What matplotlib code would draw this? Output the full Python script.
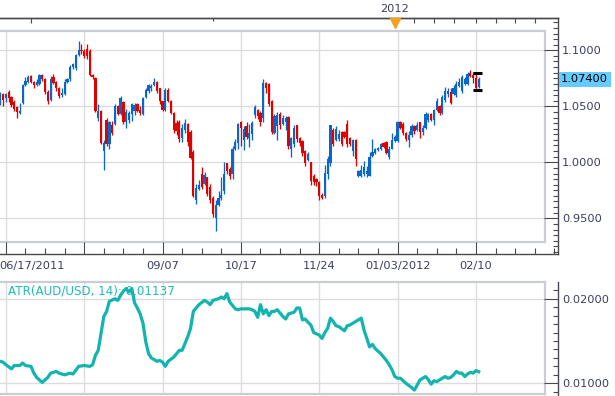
import matplotlib
matplotlib.use('Agg')
import matplotlib.pyplot as plt
import matplotlib.transforms as mtransforms
from matplotlib.ticker import FixedLocator, MultipleLocator, FormatStrFormatter
import numpy as np

# ---------------- data (AUD/USD daily, 06/17/2011 .. 02/13/2012) ----------------
opens = [1.055, 1.061, 1.057, 1.063, 1.058, 1.054, 1.049, 1.044, 1.053, 1.069,
         1.072, 1.077, 1.072, 1.069, 1.070, 1.078, 1.074, 1.063, 1.056, 1.076,
         1.072, 1.066, 1.060, 1.061, 1.072, 1.074, 1.085, 1.084, 1.096, 1.100,
         1.099, 1.101, 1.099, 1.078, 1.075, 1.040, 1.046, 1.010, 1.038, 1.016,
         1.033, 1.034, 1.050, 1.043, 1.054, 1.036, 1.038, 1.043, 1.046, 1.052,
         1.047, 1.043, 1.058, 1.064, 1.066, 1.069, 1.072, 1.066, 1.055, 1.047,
         1.065, 1.055, 1.044, 1.035, 1.036, 1.022, 1.029, 1.034, 1.027, 1.009,
         0.966, 0.976, 0.990, 0.981, 0.987, 0.978, 0.968, 0.950, 0.962, 0.968,
         0.974, 0.999, 0.994, 0.990, 1.012, 1.017, 1.036, 1.020, 1.032, 1.022,
         1.025, 1.042, 1.047, 1.044, 1.040, 1.071, 1.070, 1.055, 1.026, 1.032,
         1.043, 1.034, 1.036, 1.040, 1.012, 1.016, 1.033, 1.022, 1.019, 1.010,
         1.002, 1.000, 0.988, 0.985, 0.982, 0.971, 0.970, 0.990, 0.999, 1.029,
         1.020, 1.021, 1.027, 1.027, 1.034, 1.022, 1.010, 1.020, 0.988, 0.988,
         0.990, 0.990, 0.988, 1.006, 1.008, 1.011, 1.012, 1.017, 1.018, 1.005,
         1.012, 1.019, 1.019, 1.036, 1.034, 1.026, 1.020, 1.024, 1.032, 1.029,
         1.036, 1.027, 1.031, 1.038, 1.043, 1.038, 1.047, 1.050, 1.044, 1.056,
         1.061, 1.063, 1.061, 1.060, 1.068, 1.064, 1.070, 1.070, 1.080, 1.078,
         1.075, 1.067]
highs = [1.063, 1.062, 1.062, 1.065, 1.059, 1.056, 1.050, 1.053, 1.070, 1.076,
         1.078, 1.078, 1.073, 1.074, 1.079, 1.079, 1.075, 1.065, 1.077, 1.079,
         1.073, 1.067, 1.066, 1.074, 1.075, 1.087, 1.089, 1.097, 1.108, 1.106,
         1.101, 1.106, 1.101, 1.079, 1.076, 1.052, 1.047, 1.020, 1.040, 1.037,
         1.037, 1.052, 1.051, 1.059, 1.055, 1.048, 1.046, 1.053, 1.053, 1.053,
         1.050, 1.058, 1.066, 1.070, 1.070, 1.075, 1.073, 1.066, 1.055, 1.066,
         1.066, 1.056, 1.045, 1.038, 1.038, 1.034, 1.039, 1.035, 1.029, 1.011,
         0.981, 0.984, 0.996, 0.991, 0.987, 0.981, 0.970, 0.966, 0.974, 0.987,
         1.000, 0.999, 0.996, 1.015, 1.021, 1.035, 1.037, 1.032, 1.036, 1.034,
         1.037, 1.051, 1.048, 1.046, 1.074, 1.072, 1.071, 1.056, 1.043, 1.045,
         1.045, 1.042, 1.041, 1.041, 1.023, 1.033, 1.033, 1.023, 1.020, 1.011,
         1.009, 1.000, 0.990, 0.986, 0.983, 0.973, 0.998, 1.006, 1.033, 1.031,
         1.032, 1.029, 1.028, 1.028, 1.038, 1.023, 1.021, 1.021, 0.993, 0.998,
         1.001, 0.997, 1.009, 1.021, 1.013, 1.014, 1.017, 1.018, 1.019, 1.015,
         1.026, 1.024, 1.037, 1.037, 1.036, 1.027, 1.028, 1.034, 1.033, 1.036,
         1.036, 1.033, 1.045, 1.044, 1.044, 1.048, 1.057, 1.051, 1.060, 1.067,
         1.066, 1.066, 1.069, 1.073, 1.075, 1.078, 1.076, 1.081, 1.082, 1.081,
         1.0795, 1.076]
lows = [1.051, 1.050, 1.054, 1.054, 1.049, 1.046, 1.040, 1.043, 1.052, 1.068,
        1.071, 1.071, 1.066, 1.068, 1.069, 1.073, 1.061, 1.052, 1.055, 1.070,
        1.064, 1.057, 1.058, 1.060, 1.071, 1.073, 1.083, 1.082, 1.095, 1.097,
        1.093, 1.092, 1.077, 1.074, 1.045, 1.037, 1.016, 0.993, 1.015, 1.012,
        1.024, 1.033, 1.042, 1.042, 1.034, 1.031, 1.035, 1.037, 1.042, 1.045,
        1.042, 1.042, 1.057, 1.062, 1.064, 1.068, 1.062, 1.052, 1.046, 1.046,
        1.054, 1.043, 1.026, 1.024, 1.018, 1.018, 1.026, 1.015, 1.003, 0.969,
        0.963, 0.975, 0.976, 0.980, 0.970, 0.964, 0.951, 0.939, 0.961, 0.966,
        0.972, 0.990, 0.985, 0.985, 1.011, 1.012, 1.015, 1.011, 1.021, 1.014,
        1.020, 1.040, 1.039, 1.032, 1.036, 1.062, 1.050, 1.025, 1.025, 1.020,
        1.030, 1.033, 1.029, 1.012, 1.005, 1.014, 1.018, 1.015, 1.006, 0.997,
        1.001, 0.980, 0.980, 0.979, 0.966, 0.967, 0.968, 0.985, 0.997, 1.015,
        1.019, 1.019, 1.015, 1.022, 1.014, 1.015, 1.006, 0.997, 0.987, 0.987,
        0.988, 0.987, 0.988, 1.005, 1.007, 1.010, 1.011, 1.013, 1.007, 1.003,
        1.012, 1.018, 1.018, 1.030, 1.024, 1.019, 1.014, 1.023, 1.025, 1.028,
        1.022, 1.024, 1.030, 1.036, 1.037, 1.033, 1.046, 1.042, 1.043, 1.054,
        1.058, 1.052, 1.060, 1.058, 1.067, 1.062, 1.069, 1.069, 1.076, 1.071,
        1.0645, 1.066]
closes = [1.061, 1.056, 1.061, 1.057, 1.051, 1.048, 1.045, 1.046, 1.069, 1.073,
          1.076, 1.072, 1.069, 1.072, 1.078, 1.074, 1.063, 1.055, 1.074, 1.071,
          1.066, 1.059, 1.062, 1.072, 1.074, 1.085, 1.088, 1.096, 1.100, 1.099,
          1.095, 1.095, 1.078, 1.076, 1.046, 1.046, 1.017, 1.017, 1.016, 1.036,
          1.026, 1.050, 1.043, 1.057, 1.036, 1.045, 1.044, 1.052, 1.051, 1.046,
          1.044, 1.057, 1.065, 1.069, 1.068, 1.072, 1.064, 1.055, 1.047, 1.065,
          1.055, 1.044, 1.029, 1.028, 1.021, 1.031, 1.035, 1.018, 1.004, 0.970,
          0.977, 0.980, 0.978, 0.989, 0.972, 0.966, 0.954, 0.962, 0.968, 0.971,
          0.990, 0.992, 0.988, 1.012, 1.018, 1.034, 1.031, 1.030, 1.023, 1.026,
          1.035, 1.049, 1.041, 1.036, 1.071, 1.066, 1.052, 1.027, 1.041, 1.042,
          1.033, 1.040, 1.040, 1.015, 1.022, 1.031, 1.021, 1.017, 1.008, 0.999,
          1.007, 0.983, 0.982, 0.982, 0.970, 0.968, 0.990, 1.003, 1.033, 1.016,
          1.030, 1.025, 1.016, 1.023, 1.016, 1.016, 1.020, 1.003, 0.992, 0.993,
          0.996, 0.992, 1.005, 1.009, 1.012, 1.013, 1.016, 1.014, 1.008, 1.012,
          1.020, 1.023, 1.036, 1.031, 1.026, 1.021, 1.024, 1.032, 1.028, 1.033,
          1.027, 1.031, 1.043, 1.043, 1.038, 1.047, 1.055, 1.044, 1.058, 1.064,
          1.064, 1.053, 1.066, 1.070, 1.072, 1.076, 1.074, 1.079, 1.077, 1.075,
          1.066, 1.074]

atr_idx = [0, 1, 2, 4, 5, 7, 8, 9, 11, 12, 13, 15, 17, 18, 20, 21, 23, 25, 26, 28,
           30, 32, 33, 34, 35, 36, 37, 38, 39, 41, 42, 43, 44, 45, 46, 47, 48, 49, 50, 51,
           52, 53, 54, 55, 56, 57, 58, 59, 60, 62, 63, 64, 65, 66, 67, 68, 69, 70, 71, 73,
           74, 75, 76, 78, 79, 80, 81, 82, 84, 85, 86, 87, 89, 90, 91, 92, 93, 94, 95, 96,
           97, 98, 99, 100, 101, 102, 103, 105, 106, 107, 108, 109, 110, 111, 112, 114, 115, 116, 117, 118,
           119, 120, 121, 123, 124, 125, 126, 128, 129, 130, 131, 132, 133, 134, 136, 137, 138, 139, 140, 141,
           142, 143, 144, 145, 147, 148, 149, 150, 152, 153, 154, 155, 156, 157, 159, 160, 161, 162, 163, 164,
           165, 166, 167, 168, 169, 170, 171]
atr_val = [0.0126, 0.0125, 0.0122, 0.0117, 0.0121, 0.0121, 0.0124, 0.0121, 0.0120, 0.0112,
           0.0107, 0.0101, 0.0107, 0.0112, 0.0114, 0.0112, 0.0110, 0.0112, 0.0111, 0.0120,
           0.0121, 0.0120, 0.0122, 0.0133, 0.0139, 0.0159, 0.0179, 0.0185, 0.0197, 0.0200,
           0.0198, 0.0204, 0.0209, 0.0212, 0.0208, 0.0212, 0.0195, 0.0189, 0.0182, 0.0171,
           0.0149, 0.0135, 0.0130, 0.0128, 0.0126, 0.0127, 0.0125, 0.0120, 0.0126, 0.0131,
           0.0135, 0.0139, 0.0139, 0.0147, 0.0155, 0.0165, 0.0185, 0.0189, 0.0193, 0.0198,
           0.0196, 0.0193, 0.0198, 0.0200, 0.0202, 0.0200, 0.0206, 0.0196, 0.0188, 0.0187,
           0.0188, 0.0188, 0.0188, 0.0187, 0.0185, 0.0178, 0.0193, 0.0182, 0.0187, 0.0180,
           0.0185, 0.0185, 0.0187, 0.0183, 0.0179, 0.0176, 0.0182, 0.0184, 0.0189, 0.0189,
           0.0175, 0.0176, 0.0172, 0.0169, 0.0160, 0.0157, 0.0153, 0.0160, 0.0165, 0.0177,
           0.0173, 0.0168, 0.0167, 0.0162, 0.0168, 0.0169, 0.0171, 0.0175, 0.0177, 0.0163,
           0.0153, 0.0143, 0.0146, 0.0141, 0.0135, 0.0131, 0.0127, 0.0122, 0.0116, 0.0108,
           0.0106, 0.0106, 0.0103, 0.0100, 0.0095, 0.0092, 0.0098, 0.0104, 0.0108, 0.0104,
           0.0099, 0.0103, 0.0102, 0.0104, 0.0108, 0.0106, 0.0107, 0.0110, 0.0114, 0.0112,
           0.0112, 0.0108, 0.0111, 0.0113, 0.0112, 0.0115, 0.01137]

date_grid_idx = [2, 30, 58, 86, 114, 142, 170]
date_labels = ['', '', '09/07', '10/17', '11/24', '01/03/2012', '02/10']
first_label = '06/17/2011'
price_ticks = [0.95, 1.00, 1.05, 1.10]
atr_ticks = [0.01, 0.02]
last_price_label = '1.07400'
atr_label = 'ATR(AUD/USD, 14): 0.01137'
year_label = '2012'
year_idx = 141
top_major_idx = [11, 141, 148, 155, 162, 170, 177, 184, 191]
top_minor_idx = [76]

# ---------------- layout helpers ----------------
W, H = 615, 396
PX = 2.798          # pixels per bar
XL = -0.1
P_PX = 1120.0       # pixels per price unit
P_REF, P_REF_Y = 1.10, 50.3
A_PX = 8460.0       # pixels per ATR unit
A_REF, A_REF_Y = 0.02, 298.7

def rect(x0, y0, x1, y1):
    return [x0 / W, 1 - y1 / H, (x1 - x0) / W, (y1 - y0) / H]

def plim(ytop, ybot):
    return (P_REF - (ybot - P_REF_Y) / P_PX, P_REF + (P_REF_Y - ytop) / P_PX)

def alim(ytop, ybot):
    return (A_REF - (ybot - A_REF_Y) / A_PX, A_REF + (A_REF_Y - ytop) / A_PX)

UP = '#0a66c8'
DOWN = '#e00000'
GRID = '#dcdcdc'
BORDER = '#c9ced6'
AXC = '#4a4a4a'
LAB = '#3c3c64'
TEAL = '#12b4b0'

fig = plt.figure(figsize=(W / 100, H / 100), dpi=100)
fig.patch.set_facecolor('white')

# ---------------- price panel ----------------
ax_p = fig.add_axes(rect(0, 31, 545, 242), zorder=1)
ax_p.set_xlim(XL, XL + 545 / PX)
ax_p.set_ylim(*plim(31, 242))
ax_p.set_xticks(date_grid_idx)
ax_p.set_yticks(price_ticks)
ax_p.grid(True, color=GRID, lw=1.0)
ax_p.set_axisbelow(True)
ax_p.tick_params(length=0, labelbottom=False, labelleft=False)
ax_p.spines['left'].set_visible(False)
for s in ('top', 'right', 'bottom'):
    ax_p.spines[s].set_color(BORDER)
    ax_p.spines[s].set_linewidth(1.6)

O = np.array(opens); Hh = np.array(highs); L = np.array(lows); C = np.array(closes)
idx = np.arange(len(C))
cols = np.where(C >= O, UP, DOWN)
ax_p.vlines(idx, L, Hh, colors=cols, lw=0.95, zorder=3)
ax_p.bar(idx, np.maximum(np.abs(C - O), 0.0009), bottom=np.minimum(O, C),
         width=0.8, color=cols, linewidth=0, zorder=3)
hl = len(C) - 2
ax_p.hlines([Hh[hl], L[hl]], hl - 1.0, hl + 2.1, colors='black', lw=2.2, zorder=4)

# outer frame with scales
ax_po = fig.add_axes(rect(0, 18, 558, 254), zorder=2)
ax_po.patch.set_visible(False)
ax_po.set_xlim(XL, XL + 558 / PX)
ax_po.set_ylim(*plim(18, 254))
ax_po.spines['left'].set_visible(False)
for s in ('top', 'right', 'bottom'):
    ax_po.spines[s].set_color(AXC)
    ax_po.spines[s].set_linewidth(1.0)
ax_po.yaxis.tick_right()
ax_po.yaxis.set_major_locator(FixedLocator(price_ticks))
ax_po.yaxis.set_major_formatter(FormatStrFormatter('%.4f'))
ax_po.yaxis.set_minor_locator(MultipleLocator(0.005))
ax_po.tick_params(axis='y', which='major', direction='in', length=10, width=0.8,
                  color=AXC, labelsize=8.2, labelcolor=LAB, pad=3)
ax_po.tick_params(axis='y', which='minor', direction='in', length=3.6, width=0.8, color=AXC)
ax_po.set_xticks(date_grid_idx)
ax_po.set_xticklabels(date_labels)
ax_po.xaxis.set_minor_locator(FixedLocator([i for i in range(2, 200, 7) if i not in date_grid_idx]))
ax_po.tick_params(axis='x', which='major', direction='in', length=8.6, width=0.8,
                  color=AXC, labelsize=8.2, labelcolor=LAB, pad=5)
ax_po.tick_params(axis='x', which='minor', direction='in', length=4.3, width=0.8, color=AXC)
blend_x = mtransforms.blended_transform_factory(ax_po.transData, ax_po.transAxes)
ax_po.annotate(first_label, xy=(0, 0), xycoords=blend_x, xytext=(-0.5, -5),
               textcoords='offset points', ha='left', va='top', fontsize=8.2, color=LAB)

sec = ax_po.secondary_xaxis('top')
sec.spines['top'].set_color(AXC)
sec.spines['top'].set_linewidth(1.0)
sec.xaxis.set_major_locator(FixedLocator(top_major_idx))
sec.xaxis.set_minor_locator(FixedLocator(top_minor_idx))
sec.tick_params(axis='x', which='major', direction='in', length=3.8, width=0.8,
                color=AXC, labeltop=False)
sec.tick_params(axis='x', which='minor', direction='in', length=2.2, width=0.8, color=AXC)

ax_po.plot([year_idx], [1 - 5.0 / 236], marker='v', ms=7, color='#f5a21e',
           transform=blend_x, clip_on=False, zorder=5, linestyle='none')
ax_po.annotate(year_label, xy=(year_idx, 1), xycoords=blend_x, xytext=(0, 6.5),
               textcoords='offset points', ha='center', va='center', fontsize=8.2, color=LAB)

blend_y = mtransforms.blended_transform_factory(ax_po.transAxes, ax_po.transData)
ax_po.annotate(last_price_label, xy=(1, C[-1]), xycoords=blend_y, xytext=(2.2, 0),
               textcoords='offset points', ha='left', va='center', fontsize=8.2, color='black',
               bbox=dict(boxstyle='square,pad=0.22', fc='#66ccff', ec='none'), zorder=6)

# ---------------- ATR panel ----------------
ax_a = fig.add_axes(rect(0, 282, 545, 394), zorder=1)
ax_a.set_xlim(XL, XL + 545 / PX)
ax_a.set_ylim(*alim(282, 394))
ax_a.set_xticks(date_grid_idx)
ax_a.set_yticks(atr_ticks)
ax_a.grid(True, color=GRID, lw=1.0)
ax_a.set_axisbelow(True)
ax_a.tick_params(length=0, labelbottom=False, labelleft=False)
ax_a.spines['left'].set_visible(False)
for s in ('top', 'right', 'bottom'):
    ax_a.spines[s].set_color(BORDER)
    ax_a.spines[s].set_linewidth(1.6)
ax_a.plot(atr_idx, atr_val, color=TEAL, lw=2.3, solid_joinstyle='round', zorder=3)
ax_a.text(8 / 545, 1 - 8.5 / 112, atr_label, transform=ax_a.transAxes, ha='left',
          va='center', fontsize=8.6, color='#22bab6', zorder=2)

ax_ao = fig.add_axes(rect(0, 282, 558, 396), zorder=2)
ax_ao.patch.set_visible(False)
ax_ao.set_xlim(XL, XL + 558 / PX)
ax_ao.set_ylim(*alim(282, 396))
for s in ('left', 'top', 'bottom'):
    ax_ao.spines[s].set_visible(False)
ax_ao.spines['right'].set_color(AXC)
ax_ao.spines['right'].set_linewidth(1.0)
ax_ao.set_xticks([])
ax_ao.yaxis.tick_right()
ax_ao.yaxis.set_major_locator(FixedLocator(atr_ticks))
ax_ao.yaxis.set_major_formatter(FormatStrFormatter('%.5f'))
ax_ao.yaxis.set_minor_locator(MultipleLocator(0.001))
ax_ao.tick_params(axis='y', which='major', direction='in', length=10, width=0.8,
                  color=AXC, labelsize=8.2, labelcolor=LAB, pad=3)
ax_ao.tick_params(axis='y', which='minor', direction='in', length=3.6, width=0.8, color=AXC)

fig.savefig('out.png', dpi=100, facecolor='white')
